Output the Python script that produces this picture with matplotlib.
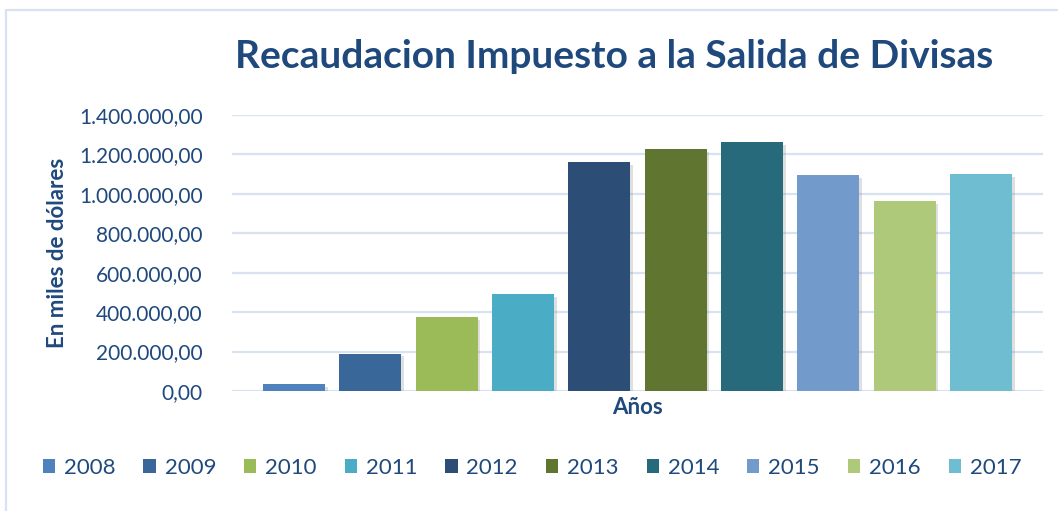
import matplotlib
matplotlib.use("Agg")
import matplotlib.pyplot as plt
import matplotlib.patches as mpatches
from matplotlib.ticker import FuncFormatter
from matplotlib.patheffects import SimplePatchShadow, Normal

# Datos (miles de dólares)
years = ['2008', '2009', '2010', '2011', '2012', '2013', '2014', '2015', '2016', '2017']
values = [33000, 190000, 373000, 491000, 1161000, 1226000, 1262000, 1095000, 963000, 1100000]
bar_colors = ['#4F81BD', '#3A679A', '#9BBB59', '#4BACC6', '#2C4D75',
              '#5F7530', '#276A7C', '#729ACA', '#AFC97A', '#6FBDD1']
y_ticks = [0, 200000, 400000, 600000, 800000, 1000000, 1200000, 1400000]

text_color = '#1F497D'
grid_color = '#D9E2F1'

plt.rcParams['font.family'] = ['Lato', 'DejaVu Sans']

fig = plt.figure(figsize=(10.58, 5.11), dpi=100, facecolor='white')
ax = fig.add_axes([232 / 1058, 1 - 391 / 511, (1043 - 232) / 1058, (391 - 115) / 511])

x = list(range(len(years)))
bars = ax.bar(x, values, width=0.81, color=bar_colors, zorder=3)
for b in bars:
    b.set_path_effects([SimplePatchShadow(offset=(2, -2), alpha=0.25, shadow_rgbFace='gray'), Normal()])

def fmt(v, pos):
    s = f'{v:,.2f}'
    return s.replace(',', 'X').replace('.', ',').replace('X', '.')

ax.set_ylim(0, 1400000)
ax.set_xlim(-0.81, 9.81)
ax.set_yticks(y_ticks)
ax.yaxis.set_major_formatter(FuncFormatter(fmt))
ax.set_xticks([])
ax.tick_params(axis='y', length=0, pad=21, labelsize=15, labelcolor=text_color)
ax.grid(axis='y', color=grid_color, linewidth=1.6, zorder=0)
for s in ax.spines.values():
    s.set_visible(False)

ax.set_ylabel('En miles de dólares', fontsize=16, fontweight='bold', color=text_color, labelpad=8)
ax.set_xlabel('Años', fontsize=16, fontweight='bold', color=text_color, labelpad=4)

fig.text(614 / 1058, 1 - 57 / 511, 'Recaudacion Impuesto a la Salida de Divisas',
         ha='center', va='center', fontsize=28, fontweight='bold', color=text_color)

# Leyenda
handles = [mpatches.Patch(facecolor=c, edgecolor='none') for c in bar_colors]
fig.legend(handles, years, loc='center', bbox_to_anchor=(532 / 1058, 1 - 468 / 511), ncol=10,
           frameon=False, fontsize=16, labelcolor=text_color, handlelength=0.55, handleheight=0.55,
           handletextpad=0.4, columnspacing=1.26)

# Borde del gráfico
border = mpatches.Rectangle((6 / 1058, -0.2), 1.2, 1.2 - 10 / 511, transform=fig.transFigure,
                            facecolor='none', edgecolor=grid_color, linewidth=1.6)
fig.patches.append(border)

fig.savefig('out.png', dpi=100, facecolor='white')
